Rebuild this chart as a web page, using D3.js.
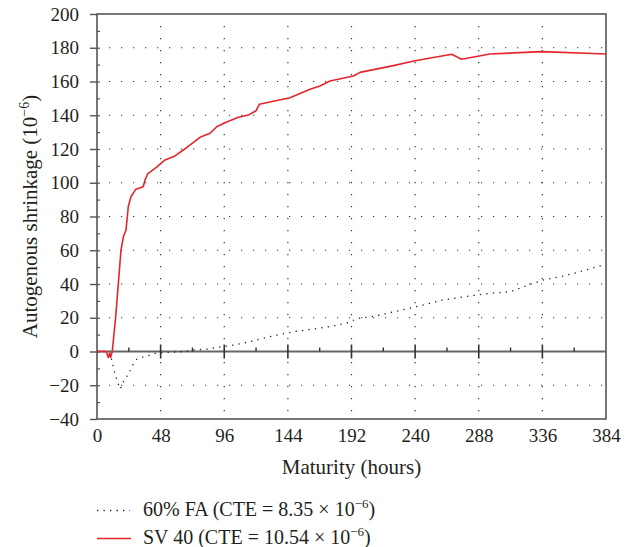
<!DOCTYPE html>
<html>
<head>
<meta charset="utf-8">
<script src="https://cdn.jsdelivr.net/npm/d3@7"></script>
<style>
  body { margin: 0; background: #fff; }
  svg text { font-family: "Liberation Serif", "DejaVu Serif", serif; fill: #231f20; }
</style>
</head>
<body>
<svg id="chart" width="635" height="547"></svg>
<script>

// maturity (hours) and autogenous shrinkage (1e-6)
var faHours = [0, 9, 10.4, 11.8, 12.8, 14.1, 15.6, 17.4, 18.6, 19.9, 22.4, 24.9, 26.9, 29.9, 34.4, 38.7, 43.8, 48.8, 53.8, 63.9, 73.9, 84, 94, 104, 114, 128.5, 138.6, 148, 163, 178, 188, 197, 207, 221, 236, 246, 261, 281, 296.5, 311.6, 324, 337, 352, 367, 382];
var faValues = [0, 0, -3, -7, -11, -14.5, -18.3, -22.2, -20.4, -17.9, -14.9, -11.4, -8, -4.6, -3.4, -2.5, -1.1, -0.7, -0.5, -0.1, 0.9, 1.5, 2.8, 3.9, 5.6, 8.4, 10.2, 11.7, 13.3, 15.1, 16.7, 19.7, 20.6, 23, 25.6, 27.6, 30.5, 32.9, 34.5, 35.4, 39, 42.4, 44.7, 47.9, 51.3];

var svHours = [0, 7, 8.5, 9.6, 10.3, 11.5, 14.1, 16.1, 18.1, 19.9, 21.9, 23.6, 25.6, 29.2, 34.9, 36.2, 38.2, 45, 51.3, 58.8, 65.1, 77.7, 85.3, 90.3, 96.6, 106.6, 114.1, 120, 122.5, 145.6, 160.7, 168.2, 175.8, 193.4, 198.4, 223.6, 240, 267.6, 275, 296.5, 335.5, 384];
var svValues = [0, 0, -3.5, -1, -3.5, 0, 20.6, 40.4, 60.1, 68, 72, 85.8, 91.7, 96.1, 97.7, 101.6, 105.2, 109.2, 113.5, 115.9, 119.4, 126.9, 129.3, 133.2, 135.6, 138.8, 140.1, 142.7, 146.5, 150.4, 155.4, 157.3, 160.3, 163.3, 165.4, 169.4, 172.3, 176.1, 173.2, 176.3, 177.7, 176.3];

var xTicks = [0, 48, 96, 144, 192, 240, 288, 336, 384];
var yTicks = [-40, -20, 0, 20, 40, 60, 80, 100, 120, 140, 160, 180, 200];

var legendLabels = ["60% FA (CTE = 8.35 × 10", "SV 40 (CTE = 10.54 × 10"];

var FONT = "'Liberation Serif', 'DejaVu Serif', serif";

var svg = d3.select("#chart"),
  LEFT = 97, RIGHT = 606, TOP = 14, BOTTOM = 419,
  x = d3.scaleLinear().domain([0, 384]).range([LEFT, RIGHT]),
  y = d3.scaleLinear().domain([-40, 200]).range([BOTTOM, TOP]);

// dotted grid
svg.append("g").selectAll("line")
  .data(yTicks.filter(function(d) { return d !== 0 && d !== -40 && d !== 200; }))
  .enter().append("line")
  .attr("x1", LEFT + 12).attr("x2", RIGHT)
  .attr("y1", function(d) { return y(d); }).attr("y2", function(d) { return y(d); })
  .attr("stroke", "#333").attr("stroke-width", 1.2)
  .attr("stroke-dasharray", "1.2,10.8");

svg.append("g").selectAll("line")
  .data(xTicks.filter(function(d) { return d !== 0 && d !== 384; }))
  .enter().append("line")
  .attr("x1", function(d) { return x(d); }).attr("x2", function(d) { return x(d); })
  .attr("y1", TOP + 12).attr("y2", BOTTOM)
  .attr("stroke", "#333").attr("stroke-width", 1.2)
  .attr("stroke-dasharray", "1.2,10.8");

// y axis: labels + outward major ticks
var yAxis = d3.axisLeft(y).tickValues(yTicks).tickSize(7).tickPadding(11);
var gy = svg.append("g").attr("transform", "translate(" + LEFT + ",0)").call(yAxis)
  .attr("font-family", FONT).attr("font-size", 19);
gy.select(".domain").remove();
gy.selectAll("line").attr("stroke", "#555").attr("stroke-width", 1.4);
gy.selectAll("text").attr("fill", "#231f20");

// inward minor ticks every 10
var gyMinor = svg.append("g").attr("transform", "translate(" + LEFT + ",0)")
  .call(d3.axisRight(y).tickValues(d3.range(-30, 200, 10)).tickSize(3).tickFormat(""));
gyMinor.select(".domain").remove();
gyMinor.selectAll("line").attr("stroke", "#555").attr("stroke-width", 1.2);

// x axis labels under the frame
var xAxis = d3.axisBottom(x).tickValues(xTicks).tickSize(0).tickPadding(10);
var gx = svg.append("g").attr("transform", "translate(0," + BOTTOM + ")").call(xAxis)
  .attr("font-family", FONT).attr("font-size", 19);
gx.select(".domain").remove();
gx.selectAll("text").attr("fill", "#231f20");

// frame
svg.append("rect")
  .attr("x", LEFT).attr("y", TOP)
  .attr("width", RIGHT - LEFT).attr("height", BOTTOM - TOP)
  .attr("fill", "none").attr("stroke", "#555").attr("stroke-width", 1.6);

// zero line with crossing ticks
var gZero = svg.append("g").attr("transform", "translate(0," + y(0) + ")");
gZero.append("line").attr("x1", LEFT).attr("x2", RIGHT)
  .attr("stroke", "#666").attr("stroke-width", 2.2);
gZero.selectAll(".major").data(xTicks.filter(function(d) { return d > 0 && d < 384; }))
  .enter().append("line").attr("class", "major")
  .attr("x1", function(d) { return x(d); }).attr("x2", function(d) { return x(d); })
  .attr("y1", -7).attr("y2", 7)
  .attr("stroke", "#333").attr("stroke-width", 1.6);
gZero.selectAll(".minor").data(d3.range(24, 384, 48))
  .enter().append("line").attr("class", "minor")
  .attr("x1", function(d) { return x(d); }).attr("x2", function(d) { return x(d); })
  .attr("y1", -4).attr("y2", 0)
  .attr("stroke", "#333").attr("stroke-width", 1.4);

// series
var line = d3.line()
  .x(function(d) { return x(d[0]); })
  .y(function(d) { return y(d[1]); });

svg.append("path")
  .datum(d3.zip(faHours, faValues))
  .attr("d", line)
  .attr("fill", "none").attr("stroke", "#222").attr("stroke-width", 1.3)
  .attr("stroke-dasharray", "1.3,5.2");

svg.append("path")
  .datum(d3.zip(svHours, svValues))
  .attr("d", line)
  .attr("fill", "none").attr("stroke", "#e4262b").attr("stroke-width", 1.6)
  .attr("stroke-linejoin", "round");

// axis titles
svg.append("text")
  .attr("x", (LEFT + RIGHT) / 2).attr("y", 474)
  .attr("text-anchor", "middle").attr("font-family", FONT).attr("font-size", 21)
  .text("Maturity (hours)");

var yt = svg.append("text")
  .attr("transform", "translate(37," + ((TOP + BOTTOM) / 2) + ") rotate(-90)")
  .attr("text-anchor", "middle").attr("font-family", FONT).attr("font-size", 21);
yt.append("tspan").text("Autogenous shrinkage (10");
yt.append("tspan").attr("dy", -8).attr("font-size", 14).text("−6");
yt.append("tspan").attr("dy", 8).text(")");

// legend
var legendY = [510.5, 538.5];
var lg = svg.append("g");
lg.append("line").attr("x1", 97).attr("x2", 130).attr("y1", legendY[0]).attr("y2", legendY[0])
  .attr("stroke", "#222").attr("stroke-width", 1.3).attr("stroke-dasharray", "1.3,5.2");
lg.append("line").attr("x1", 97).attr("x2", 131).attr("y1", legendY[1]).attr("y2", legendY[1])
  .attr("stroke", "#e4262b").attr("stroke-width", 1.6);
legendLabels.forEach(function(label, i) {
  var t = lg.append("text").attr("x", 143).attr("y", legendY[i] + 5.5)
    .attr("font-family", FONT).attr("font-size", 20);
  t.append("tspan").text(label);
  t.append("tspan").attr("dy", -8).attr("font-size", 13).text("−6");
  t.append("tspan").attr("dy", 8).text(")");
});

</script>
</body>
</html>
